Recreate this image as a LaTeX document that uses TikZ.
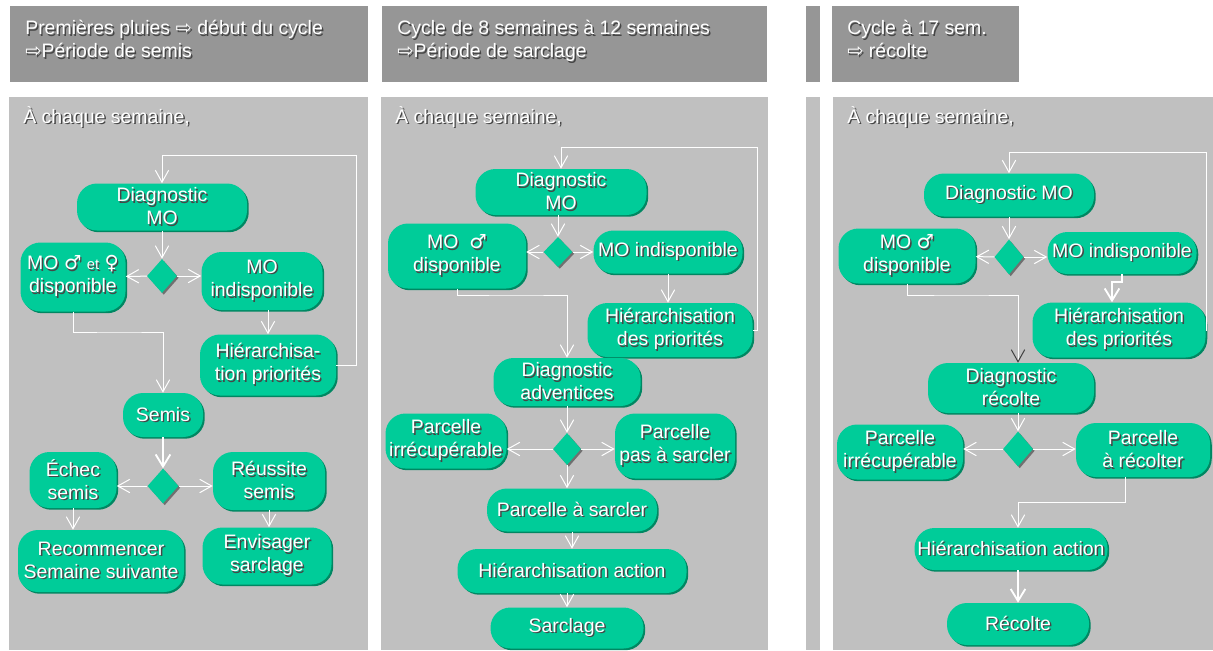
\documentclass[tikz,border=0pt]{standalone}
\usepackage{fontspec}
\setmainfont{Liberation Sans}
\newfontfamily\symb{DejaVu Sans}
\usetikzlibrary{shapes.geometric,arrows.meta,shadows}
\definecolor{fondclair}{RGB}{192,192,192}
\definecolor{fondfonce}{RGB}{150,150,150}
\definecolor{vertnoeud}{RGB}{0,204,153}
\definecolor{vertombre}{RGB}{0,135,98}
\definecolor{grisombre}{RGB}{112,112,112}
\definecolor{ombretexte}{RGB}{70,70,70}

\newcommand{\ombre}[1]{\rlap{\kern1.1pt\raisebox{-1.1pt}{\textcolor{ombretexte}{#1}}}#1}
\newcommand{\petit}[1]{{\fontsize{11}{13}\selectfont #1}}

\tikzset{
  taille/.style 2 args={minimum width=#1*0.75pt, minimum height=#2*0.75pt},
  etape/.style={rectangle, rounded corners=15pt, fill=vertnoeud, text=white, align=center, inner sep=1pt,
    drop shadow={shadow xshift=1.3pt, shadow yshift=-1.3pt, fill=vertombre, opacity=1}},
  choix/.style={diamond, fill=vertnoeud, inner sep=0pt,
    drop shadow={shadow xshift=1.3pt, shadow yshift=-1.3pt, fill=grisombre, opacity=1}},
  fleche/.style={draw=white, line width=0.75pt, -{Straight Barb[length=9pt,width=10pt]}},
  flechesombre/.style={fleche, -{Straight Barb[length=9pt,width=10pt,color=darkgray]}},
  grossefleche/.style={fleche, line width=1.4pt, -{Straight Barb[length=9pt,width=11pt]}},
  entete/.style={fill=fondfonce},
  corps/.style={fill=fondclair},
  titre/.style={text=white, align=left, inner sep=0pt, anchor=north west},
  soustitre/.style={text=white, inner sep=0pt, anchor=base west}
}

\begin{document}
\begin{tikzpicture}[x=0.75pt, y=-0.75pt, font=\fontsize{14.6}{17.3}\selectfont]
\fill[white] (0,0) rectangle (1213,650);
\useasboundingbox (0,0) rectangle (1213,650);

% bandeaux et fonds des colonnes
\foreach \xa/\xb in {10/368, 382/767, 806/820, 832/1019}
  \fill[entete] (\xa,6) rectangle (\xb,82);
\foreach \xa/\xb in {9/368, 381/768, 806/820, 833/1213}
  \fill[corps] (\xa,97) rectangle (\xb,650);

\node[titre] (titreA) at (25,20) {\ombre{Premières pluies {\symb ⇨} début du cycle}\\\ombre{{\symb ⇨}Période de semis}};
\node[titre] (titreB) at (397,20) {\ombre{Cycle de 8 semaines à 12 semaines}\\\ombre{{\symb ⇨}Période de sarclage}};
\node[titre] (titreC) at (847,20) {\ombre{Cycle à 17 sem.}\\\ombre{{\symb ⇨} récolte}};
\node[soustitre] (semA) at (23,123) {\ombre{À chaque semaine,}};
\node[soustitre] (semB) at (395,123) {\ombre{À chaque semaine,}};
\node[soustitre] (semC) at (847,123) {\ombre{À chaque semaine,}};

% colonne 1 : semis
\node[etape, taille={170}{47}] (diagA) at (162,207) {\ombre{Diagnostic}\\\ombre{MO}};
\node[choix, taille={30}{34}] (losA1) at (162,276) {};
\node[etape, taille={105}{69}] (dispA) at (73,277) {\ombre{MO {\symb ♂} \petit{et} {\symb ♀}}\\\ombre{disponible}};
\node[etape, taille={121}{58}] (indispA) at (262,281) {\ombre{MO}\\\ombre{indisponible}};
\node[etape, taille={136}{61}] (hierA) at (268,365) {\ombre{Hiérarchisa-}\\\ombre{tion priorités}};
\node[etape, taille={80}{44}] (semisA) at (163,415) {\ombre{Semis}};
\node[choix, taille={31}{35}] (losA2) at (163,486) {};
\node[etape, taille={87}{56}] (echecA) at (73,480) {\ombre{Échec}\\\ombre{semis}};
\node[etape, taille={112}{58}] (reussiA) at (269,481) {\ombre{Réussite}\\\ombre{semis}};
\node[etape, taille={166}{62}] (recomA) at (101,561) {\ombre{Recommencer}\\\ombre{Semaine suivante}};
\node[etape, taille={129}{57}] (envisA) at (267,556) {\ombre{Envisager}\\\ombre{sarclage}};
\coordinate (boucleA) at (356,155);
\coordinate (coudeA) at (120,332);

\draw[fleche] (diagA) -- (losA1);
\draw[fleche] (losA1) -- (dispA);
\draw[fleche] (losA1) -- (losA1 -| indispA.west);
\draw[fleche] (indispA.south -| hierA) -- (hierA);
\draw[fleche] (hierA) -| (boucleA) -| (diagA);
\draw[fleche] (dispA) |- (coudeA) -| (semisA);
\draw[grossefleche] (semisA) -- (losA2);
\draw[fleche] (losA2) -- (losA2 -| echecA.east);
\draw[fleche] (losA2) -- (losA2 -| reussiA.west);
\draw[fleche] (echecA.south) -- (echecA.south |- recomA.north);
\draw[fleche] (reussiA.south) -- (reussiA.south |- envisA.north);

% colonne 2 : sarclage
\node[etape, taille={171}{46}] (diagB) at (561,192) {\ombre{Diagnostic}\\\ombre{MO}};
\node[choix, taille={29}{30}] (losB1) at (558,252) {};
\node[etape, taille={138}{65}] (dispB) at (457,256) {\ombre{MO~~{\symb ♂}}\\\ombre{disponible}};
\node[etape, taille={149}{43}] (indispB) at (668,252) {\ombre{MO indisponible}};
\node[etape, taille={165}{54}] (hierB) at (670,330) {\ombre{Hiérarchisation}\\\ombre{des priorités}};
\node[etape, taille={147}{48}] (diagadvB) at (567,382) {\ombre{Diagnostic}\\\ombre{adventices}};
\node[choix, taille={28}{32}] (losB2) at (567,449) {};
\node[etape, taille={121}{55}] (irrecB) at (446,441) {\ombre{Parcelle}\\\ombre{irrécupérable}};
\node[etape, taille={120}{65}] (pasB) at (675,446) {\ombre{Parcelle}\\\ombre{pas à sarcler}};
\node[etape, taille={170}{43}] (asarcB) at (572,510) {\ombre{Parcelle à sarcler}};
\node[etape, taille={229}{44}] (hieractB) at (572,571) {\ombre{Hiérarchisation action}};
\node[etape, taille={153}{41}] (sarclB) at (567,628) {\ombre{Sarclage}};
\coordinate (boucleB) at (757,147);
\coordinate (coudeB) at (520,295);

\draw[fleche] (losB1 |- diagB.south) -- (losB1);
\draw[fleche] (losB1) -- (losB1 -| dispB.east);
\draw[fleche] (losB1) -- (indispB);
\draw[fleche] (indispB.south) -- (indispB.south |- hierB.north);
\draw[fleche] (hierB) -| (boucleB) -| (diagB);
\draw[fleche] (dispB) |- (coudeB) -| (diagadvB);
\draw[fleche] (diagadvB) -- (losB2);
\draw[fleche] (losB2) -- (losB2 -| irrecB.east);
\draw[fleche] (losB2) -- (losB2 -| pasB.west);
\draw[fleche] (losB2) -- (losB2 |- asarcB.north);
\draw[fleche] (asarcB) -- (hieractB);
\draw[fleche] (hieractB.south -| sarclB) -- (sarclB);

% colonne 3 : recolte
\node[etape, taille={170}{43}] (diagC) at (1009,195) {\ombre{Diagnostic MO}};
\node[choix, taille={29}{35}] (losC1) at (1009,257) {};
\node[etape, taille={137}{55}] (dispC) at (907,256) {\ombre{MO {\symb ♂}}\\\ombre{disponible}};
\node[etape, taille={149}{42}] (indispC) at (1122,253) {\ombre{MO indisponible}};
\node[etape, taille={173}{55}] (hierC) at (1119,330) {\ombre{Hiérarchisation}\\\ombre{des priorités}};
\node[etape, taille={166}{50}] (diagrecC) at (1011,388) {\ombre{Diagnostic}\\\ombre{récolte}};
\node[choix, taille={30}{35}] (losC2) at (1018,449) {};
\node[etape, taille={126}{55}] (irrecC) at (900,452) {\ombre{Parcelle}\\\ombre{irrécupérable}};
\node[etape, taille={134}{54}] (arecC) at (1143,450) {\ombre{Parcelle}\\\ombre{à récolter}};
\node[etape, taille={193}{42}] (hieractC) at (1011,549) {\ombre{Hiérarchisation action}};
\node[etape, taille={142}{42}] (recolteC) at (1018,624) {\ombre{Récolte}};
\coordinate (boucleC) at (1206,152);
\coordinate (coudeC1) at (1112,282);
\coordinate (coudeC2) at (960,295);
\coordinate (coudeC3) at (1125,502);

\draw[fleche] (diagC) -- (losC1);
\draw[fleche] (losC1) -- (dispC);
\draw[fleche] (losC1) -- (losC1 -| indispC.west);
\draw[grossefleche] (indispC.south) |- (coudeC1) -- (coudeC1 |- hierC.north);
\draw[fleche] (hierC) -| (boucleC) -| (diagC);
\draw[flechesombre] (dispC) |- (coudeC2) -| (losC2 |- diagrecC.north);
\draw[fleche] (losC2 |- diagrecC.south) -- (losC2);
\draw[fleche] (losC2) -- (losC2 -| irrecC.east);
\draw[fleche] (losC2) -- (losC2 -| arecC.west);
\draw[fleche] (arecC.south -| coudeC3) -- (coudeC3) -| (losC2 |- hieractC.north);
\draw[grossefleche] (hieractC.south -| recolteC) -- (recolteC);
\end{tikzpicture}
\end{document}
